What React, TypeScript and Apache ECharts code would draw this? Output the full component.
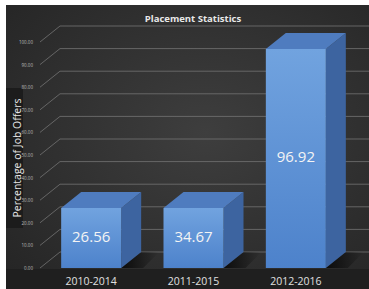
import React, { useEffect, useRef } from "react";
import * as echarts from "echarts";

const categories = ["2010-2014", "2011-2015", "2012-2016"];
const barValues = [26.56, 26.6, 96.92];
const valueLabels = ["26.56", "34.67", "96.92"];
const yTicks = [0, 10, 20, 30, 40, 50, 60, 70, 80, 90, 100];

const DX = 20;
const DY = 16;
const FONT = "'Open Sans', 'Noto Sans', sans-serif";

export default function App() {
  const ref = useRef<HTMLDivElement>(null);
  useEffect(() => {
    const chart = echarts.init(ref.current!, undefined, { renderer: "svg" });
    chart.setOption({
      animation: false,
      backgroundColor: "#ffffff",
      graphic: [
        {
          type: "rect",
          z: -10,
          silent: true,
          shape: { x: 6, y: 5, width: 363, height: 284 },
          style: {
            fill: new echarts.graphic.RadialGradient(0.55, 0.45, 0.75, [
              { offset: 0, color: "#3e3e3e" },
              { offset: 1, color: "#252525" },
            ]),
          },
        },
        {
          type: "rect",
          z: -9,
          silent: true,
          shape: { x: 6, y: 269, width: 363, height: 20 },
          style: { fill: "#1f1f1f" },
        },
        {
          type: "rect",
          z: -9,
          silent: true,
          shape: { x: 6, y: 88, width: 17, height: 140 },
          style: { fill: "#1c1c1c" },
        },
        {
          type: "text",
          x: 16.5,
          y: 158,
          rotation: Math.PI / 2,
          style: {
            text: "Percentage of Job Offers",
            fill: "#e8e8e8",
            font: `10.5px ${FONT}`,
            align: "center",
            verticalAlign: "middle",
          },
        },
      ],
      title: {
        text: "Placement Statistics",
        left: 188,
        textAlign: "center",
        top: 8,
        textStyle: { color: "#e8e8e8", fontSize: 9.5, fontWeight: "bold", fontFamily: FONT },
      },
      grid: { left: 40, right: 22, top: 42, bottom: 21 },
      xAxis: {
        type: "category",
        data: categories,
        axisLine: { show: false },
        axisTick: { show: false },
        axisLabel: { color: "#e0e0e0", fontSize: 10.5, fontFamily: FONT, margin: 7 },
      },
      yAxis: {
        type: "value",
        min: 0,
        max: 100,
        interval: 10,
        axisLine: { show: false },
        axisTick: { show: false },
        splitLine: { show: false },
        axisLabel: {
          color: "#bdbdbd",
          fontSize: 4.5,
          fontFamily: FONT,
          margin: 7,
          formatter: (v: number) => v.toFixed(2),
        },
      },
      series: [
        {
          type: "custom",
          z: 1,
          silent: true,
          data: yTicks.map((t) => [0, t]),
          renderItem: (params: any, api: any) => {
            const cs = params.coordSys;
            const y = api.coord([0, api.value(1)])[1];
            return {
              type: "polyline",
              shape: {
                points: [
                  [cs.x, y],
                  [cs.x + DX, y - DY],
                  [369, y - DY],
                ],
              },
              style: { stroke: "#747474", lineWidth: 0.8, fill: "none" },
            };
          },
        },
        {
          type: "custom",
          z: 3,
          silent: true,
          data: barValues.map((v, i) => [i, v]),
          renderItem: (params: any, api: any) => {
            const i = api.value(0);
            const v = api.value(1);
            const top = api.coord([i, v]);
            const base = api.coord([i, 0]);
            const w = 60;
            const x1 = top[0] - w / 2;
            const x2 = x1 + w;
            const y = top[1];
            const y0 = base[1];
            return {
              type: "group",
              children: [
                {
                  type: "polygon",
                  shape: {
                    points: [
                      [x2, y0],
                      [x2 + DX, y0 - DY],
                      [x2 + DX + 18, y0 - DY],
                      [x2 + 22, y0],
                    ],
                  },
                  style: {
                    fill: new echarts.graphic.LinearGradient(0, 0, 1, 0, [
                      { offset: 0, color: "rgba(0,0,0,0.75)" },
                      { offset: 1, color: "rgba(0,0,0,0)" },
                    ]),
                  },
                },
                {
                  type: "polygon",
                  shape: {
                    points: [
                      [x2, y],
                      [x2 + DX, y - DY],
                      [x2 + DX, y0 - DY],
                      [x2, y0],
                    ],
                  },
                  style: { fill: "#3d64a0" },
                },
                {
                  type: "polygon",
                  shape: {
                    points: [
                      [x1, y],
                      [x1 + DX, y - DY],
                      [x2 + DX, y - DY],
                      [x2, y],
                    ],
                  },
                  style: { fill: "#4f7cbf" },
                },
                {
                  type: "rect",
                  shape: { x: x1, y: y, width: w, height: y0 - y },
                  style: {
                    fill: new echarts.graphic.LinearGradient(0, 0, 0, 1, [
                      { offset: 0, color: "#71a3df" },
                      { offset: 1, color: "#4d82cb" },
                    ]),
                  },
                },
                {
                  type: "text",
                  x: x1 + w / 2,
                  y: (y + y0) / 2 - 2,
                  style: {
                    text: valueLabels[i],
                    fill: "#f4f4f4",
                    font: `15px ${FONT}`,
                    align: "center",
                    verticalAlign: "middle",
                  },
                },
              ],
            };
          },
        },
      ],
    });
    return () => chart.dispose();
  }, []);
  return (
    <div
      ref={ref}
      style={{ position: "fixed", left: 0, top: 0, width: 369, height: 289 }}
    />
  );
}
